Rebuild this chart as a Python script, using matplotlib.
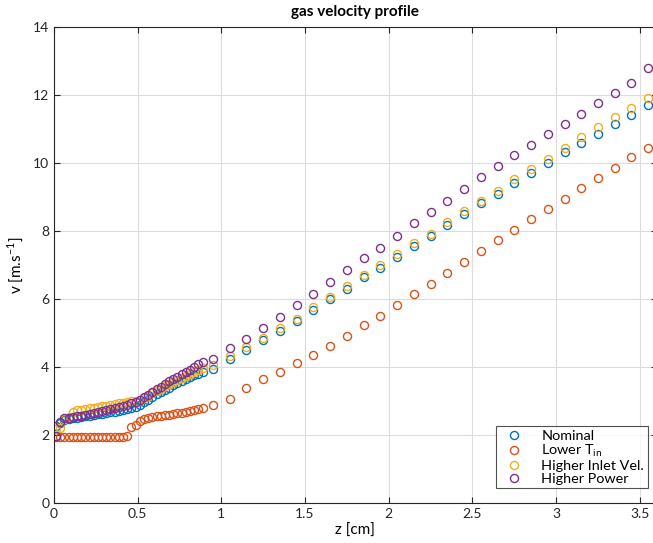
import matplotlib
matplotlib.use("Agg")
import matplotlib.pyplot as plt

plt.rcParams["font.family"] = ["Lato", "DejaVu Sans"]

# axial positions [cm] : fine mesh near the inlet, then coarse
z = [0.0125, 0.0375, 0.0625, 0.0875, 0.1125, 0.1375, 0.1625, 0.1875, 0.2125,
     0.2375, 0.2625, 0.2875, 0.3125, 0.3375, 0.3625, 0.3875, 0.4125, 0.4375,
     0.4625, 0.4875, 0.5125, 0.5375, 0.5625, 0.5875, 0.6125, 0.6375, 0.6625,
     0.6875, 0.7125, 0.7375, 0.7625, 0.7875, 0.8125, 0.8375, 0.8625, 0.8875,
     0.95, 1.05, 1.15, 1.25, 1.35, 1.45, 1.55, 1.65, 1.75, 1.85, 1.95, 2.05,
     2.15, 2.25, 2.35, 2.45, 2.55, 2.65, 2.75, 2.85, 2.95, 3.05, 3.15, 3.25,
     3.35, 3.45, 3.55]

v_nominal = [2.25, 2.35, 2.42, 2.46, 2.48, 2.50, 2.52, 2.54, 2.56, 2.58, 2.60,
             2.62, 2.64, 2.66, 2.68, 2.70, 2.72, 2.75, 2.78, 2.82, 2.88, 2.95,
             3.03, 3.11, 3.19, 3.26, 3.33, 3.39, 3.45, 3.51, 3.57, 3.63, 3.69,
             3.75, 3.80, 3.86,
             3.95, 4.22, 4.48, 4.79, 5.05, 5.36, 5.68, 5.99, 6.30, 6.63, 6.92,
             7.24, 7.55, 7.84, 8.17, 8.49, 8.81, 9.10, 9.41, 9.71, 10.00, 10.31,
             10.59, 10.86, 11.15, 11.42, 11.72]

v_lower_tin = [1.92, 1.92, 1.92, 1.92, 1.92, 1.92, 1.92, 1.92, 1.92, 1.92,
               1.92, 1.92, 1.92, 1.92, 1.92, 1.92, 1.93, 1.95, 2.22, 2.30,
               2.40, 2.46, 2.50, 2.52, 2.54, 2.55, 2.57, 2.59, 2.61, 2.63,
               2.65, 2.67, 2.70, 2.72, 2.75, 2.78,
               2.89, 3.05, 3.38, 3.64, 3.86, 4.12, 4.35, 4.62, 4.91, 5.22, 5.51,
               5.82, 6.14, 6.44, 6.76, 7.08, 7.40, 7.72, 8.03, 8.36, 8.63, 8.95,
               9.26, 9.57, 9.86, 10.17, 10.45]

v_higher_inlet = [2.18, 2.20, 2.45, 2.52, 2.68, 2.72, 2.74, 2.76, 2.78, 2.80,
                  2.82, 2.84, 2.86, 2.88, 2.90, 2.92, 2.94, 2.96, 2.98, 3.00,
                  3.03, 3.08, 3.15, 3.22, 3.29, 3.36, 3.43, 3.50, 3.56, 3.62,
                  3.68, 3.74, 3.80, 3.86, 3.91, 3.97,
                  4.05, 4.31, 4.59, 4.86, 5.14, 5.42, 5.75, 6.06, 6.37, 6.70,
                  6.99, 7.31, 7.63, 7.92, 8.26, 8.58, 8.89, 9.17, 9.52, 9.82,
                  10.13, 10.44, 10.75, 11.05, 11.34, 11.62, 11.90]

v_higher_power = [1.95, 2.38, 2.48, 2.50, 2.52, 2.54, 2.56, 2.58, 2.61, 2.64,
                  2.67, 2.70, 2.73, 2.76, 2.79, 2.82, 2.85, 2.88, 2.92, 2.96,
                  3.02, 3.10, 3.18, 3.26, 3.34, 3.42, 3.50, 3.57, 3.64, 3.71,
                  3.78, 3.85, 3.92, 3.99, 4.07, 4.15,
                  4.22, 4.54, 4.83, 5.15, 5.46, 5.81, 6.15, 6.49, 6.84, 7.19,
                  7.51, 7.86, 8.22, 8.55, 8.89, 9.23, 9.58, 9.90, 10.22, 10.52,
                  10.84, 11.15, 11.45, 11.76, 12.07, 12.35, 12.79]

series = [
    ("Nominal", v_nominal, "#0072BD"),
    ("Lower T$_{\\mathregular{in}}$", v_lower_tin, "#D95319"),
    ("Higher Inlet Vel.", v_higher_inlet, "#EDB120"),
    ("Higher Power", v_higher_power, "#7E2F8E"),
]

fig = plt.figure(figsize=(6.53, 5.43), dpi=100)
# axes run slightly past the right edge (right spine cropped, as in the original)
ax = fig.add_axes([0.0827, 0.0742, 0.9228, 0.876])

for label, v, color in series:
    ax.plot(z, v, linestyle="none", marker="o", markersize=5.8,
            markerfacecolor="none", markeredgecolor=color,
            markeredgewidth=1.0, label=label)

ax.set_xlim(0, 3.6)
ax.set_ylim(0, 14)
ax.set_xticks([0, 0.5, 1, 1.5, 2, 2.5, 3, 3.5])
ax.set_xticklabels(["0", "0.5", "1", "1.5", "2", "2.5", "3", "3.5"])
ax.set_yticks(range(0, 15, 2))
ax.grid(True, color="#dcdcdc", linewidth=0.8)
ax.set_axisbelow(True)
ax.tick_params(direction="in", top=True, right=True, length=4,
               labelsize=10, colors="#262626")
for s in ax.spines.values():
    s.set_color("#262626")
    s.set_linewidth(0.8)

ax.set_title("gas velocity profile", fontsize=11, fontweight="bold", pad=8)
ax.set_xlabel("z [cm]", fontsize=11, labelpad=3)
ax.set_ylabel("v [m.s$^{\\mathregular{-1}}$]", fontsize=11, labelpad=6)

leg = ax.legend(loc="lower left", bbox_to_anchor=(0.733, 0.03),
                fontsize=10.4, frameon=True, fancybox=False,
                handlelength=2.0, handletextpad=0.9, borderpad=0.25,
                labelspacing=0.05, borderaxespad=0)
leg.get_frame().set_edgecolor("#262626")
leg.get_frame().set_linewidth(0.8)

plt.savefig("out.png", dpi=100)
